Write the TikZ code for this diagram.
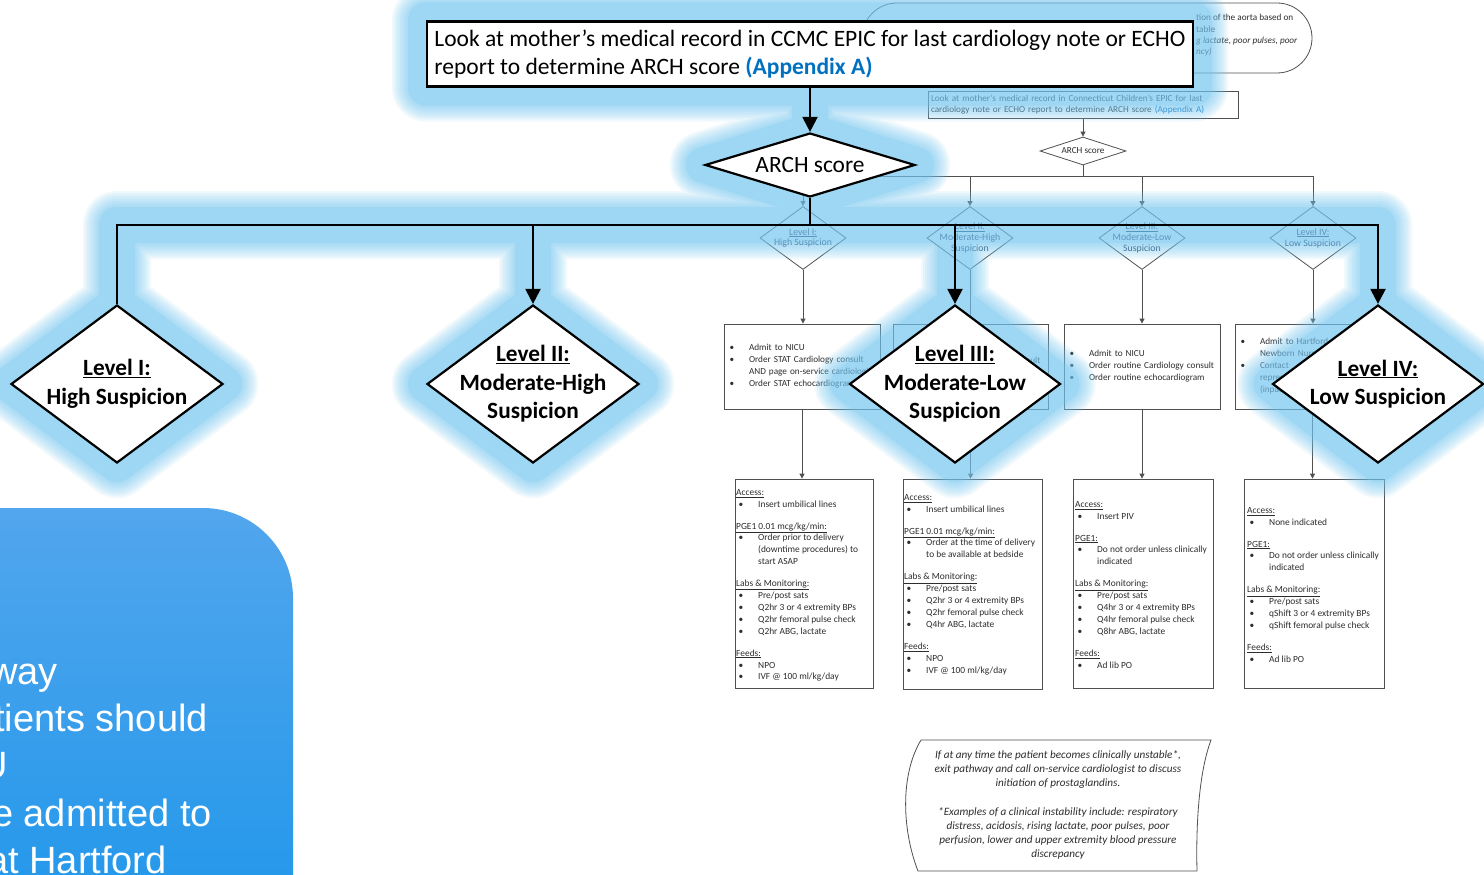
\documentclass[tikz,border=0pt]{standalone}
\usepackage{fontspec}
\setmainfont{Carlito}
\newfontfamily\arialfont{Liberation Sans}
\usetikzlibrary{shapes.geometric,arrows.meta,calc}
\pgfdeclarelayer{lowlayer}
\pgfdeclarelayer{glowlayer}
\pgfsetlayers{lowlayer,glowlayer,main}

\definecolor{glowblue}{RGB}{118,200,243}
\definecolor{linkblue}{RGB}{0,112,192}
\definecolor{linegrey}{RGB}{80,80,80}
\definecolor{smalltxt}{RGB}{45,45,45}
\definecolor{navytxt}{RGB}{35,55,85}
\definecolor{paneltop}{RGB}{82,166,237}
\definecolor{panelbot}{RGB}{24,148,234}

% bullet list helpers for the small flowchart boxes
\newcommand{\bitem}[1]{\mbox{\makebox[22pt][l]{\hspace{2.5pt}•}#1}}
\newcommand{\bcont}[1]{\mbox{\hspace*{22pt}#1}}
\newcommand{\bhead}[1]{\underline{#1}}

\begin{document}
\begin{tikzpicture}[x=1pt,y=-1pt,
  thinline/.style={draw=linegrey, line width=0.8pt},
  smallfont/.style={font=\fontsize{9.2}{12}\selectfont, text=smalltxt},
  sbox/.style={thinline, fill=white, rectangle, inner xsep=3pt, inner ysep=0pt, align=left, smallfont},
  sdiamond/.style={thinline, fill=white, diamond, inner sep=0pt, minimum width=86pt, minimum height=63pt},
  sdtext/.style={font=\fontsize{9.8}{10.8}\selectfont, text=navytxt, align=center},
  sarrow/.style={thinline, -{Triangle[width=5pt 0,length=5pt 0]}},
  dtext/.style={anchor=north west, inner sep=0pt, align=left, font=\fontsize{9.4}{11.9}\selectfont, text=smalltxt},
  bigline/.style={draw=black, line width=2.2pt},
  bigarrow/.style={bigline, -{Triangle[width=15pt 0,length=15pt 0]}},
  bigbox/.style={bigline, fill=white, rectangle},
  bigdiamond/.style={bigline, fill=white, diamond, inner sep=0pt, minimum height=158pt},
  bigtext/.style={font=\fontsize{23.3}{28.5}\selectfont\bfseries, align=center, text=black},
  paneltext/.style={font=\arialfont\fontsize{38}{40}\selectfont, text=white, inner sep=0pt, anchor=base east},
  halo/.style={glowblue, line join=round, line cap=round},
]
\useasboundingbox (0,0) rectangle (1484,875);
\clip (0,0) rectangle (1484,875);

% ---------------- small detailed flowchart ----------------
\begin{pgfonlayer}{lowlayer}
  \fill[white] (0,0) rectangle (1484,875);
  \node[thinline, rounded corners=35pt, minimum width=450pt, minimum height=70pt] (cond) at (1087,38) {};
  \node[smallfont, anchor=base west, inner sep=0pt] (c1) at (1196,21) {tion of the aorta based on};
  \node[smallfont, anchor=base west, inner sep=0pt] (c2) at (1196,33) {table};
  \node[smallfont, anchor=base west, inner sep=0pt, font=\fontsize{9.2}{12}\selectfont\itshape] (c3) at (1196,44) {g lactate, poor pulses, poor};
  \node[smallfont, anchor=base west, inner sep=0pt, font=\fontsize{9.2}{12}\selectfont\itshape] (c4) at (1196,55) {ncy)};

  \node[sbox, text width=304pt, minimum height=27pt, font=\fontsize{9.2}{11}\selectfont] (sstart) at (1083,104.5)
    {Look at mother’s medical record in Connecticut Children’s EPIC for last\\
     cardiology note or ECHO report to determine ARCH score {\color{linkblue}(Appendix A)}};
  \node[sdiamond, minimum height=28pt, label={[sdtext, text=smalltxt, font=\fontsize{9.2}{11}\selectfont]center:ARCH score}] (sarch) at (1083,151) {};
  \draw[sarrow] (sstart.south) -- (sarch.north);

  \coordinate (sbusL) at (803,176);
  \coordinate (sbusR) at (1313,176);
  \draw[thinline] (sarch.south) -- (sarch.south |- sbusL);
  \draw[thinline] (sbusL) -- (sbusR);

  \node[sdiamond, label={[sdtext]center:{\underline{Level I:}\\High Suspicion}}] (sd1) at (803,238) {};
  \node[sdiamond, label={[sdtext]center:{\underline{Level II:}\\Moderate-High\\Suspicion}}] (sd2) at (970,238) {};
  \node[sdiamond, label={[sdtext]center:{\underline{Level III:}\\Moderate-Low\\Suspicion}}] (sd3) at (1142,238) {};
  \node[sdiamond, label={[sdtext]center:{\underline{Level IV:}\\Low Suspicion}}] (sd4) at (1313,238) {};
  \draw[sarrow] (sbusL) -- (sd1.north);
  \draw[sarrow] (sd2.north |- sbusL) -- (sd2.north);
  \draw[sarrow] (sd3.north |- sbusL) -- (sd3.north);
  \draw[sarrow] (sbusR) -- (sd4.north);

  \node[sbox, text width=150pt, minimum height=85pt] (a1) at (802,366.5)
    {\bitem{Admit to NICU}\\ \bitem{Order STAT Cardiology consult}\\
     \bcont{AND page on-service cardiologist}\\ \bitem{Order STAT echocardiogram}};
  \node[sbox, text width=149pt, minimum height=85pt] (a2) at (970.5,366.5)
    {\bitem{Admit to NICU}\\ \bitem{Order urgent Cardiology consult}\\
     \bitem{Order urgent echocardiogram}\\ \mbox{}};
  \node[sbox, text width=150pt, minimum height=85pt] (a3) at (1142,366.5)
    {\bitem{Admit to NICU}\\ \bitem{Order routine Cardiology consult}\\
     \bitem{Order routine echocardiogram}};
  \node[sbox, text width=149pt, minimum height=85pt] (a4) at (1312.5,366.5)
    {\bitem{Admit to Hartford}\\ \bcont{Newborn Nursery}\\ \bitem{Contact}\\
     \bcont{representative}\\ \bcont{(inpatient)}};
  \draw[sarrow] (sd1.south) -- (sd1.south |- a1.north);
  \draw[sarrow] (sd2.south) -- (sd2.south |- a2.north);
  \draw[sarrow] (sd3.south) -- (sd3.south |- a3.north);
  \draw[sarrow] (sd4.south) -- (sd4.south |- a4.north);

  \node[thinline, fill=white, minimum width=138pt, minimum height=209pt, inner sep=0pt] (d1) at (804,583.5) {};
  \node[thinline, fill=white, minimum width=139pt, minimum height=210pt, inner sep=0pt] (d2) at (972.5,584) {};
  \node[thinline, fill=white, minimum width=140pt, minimum height=209pt, inner sep=0pt] (d3) at (1143,583.5) {};
  \node[thinline, fill=white, minimum width=140pt, minimum height=209pt, inner sep=0pt] (d4) at (1314,583.5) {};
  \draw[sarrow] (a1.south) -- (a1.south |- d1.north);
  \draw[sarrow] (a2.south) -- (a2.south |- d2.north);
  \draw[sarrow] (a3.south) -- (a3.south |- d3.north);
  \draw[sarrow] (a4.south) -- (a4.south |- d4.north);

  \node[dtext] (d1t) at (736,489) {\bhead{Access:}\\ \bitem{Insert umbilical lines}\\[10pt]
     \bhead{PGE1 0.01 mcg/kg/min:}\\ \bitem{Order prior to delivery}\\ \bcont{(downtime procedures) to}\\ \bcont{start ASAP}\\[10pt]
     \bhead{Labs \& Monitoring:}\\ \bitem{Pre/post sats}\\ \bitem{Q2hr 3 or 4 extremity BPs}\\ \bitem{Q2hr femoral pulse check}\\ \bitem{Q2hr ABG, lactate}\\[10pt]
     \bhead{Feeds:}\\ \bitem{NPO}\\ \bitem{IVF @ 100 ml/kg/day}};
  \node[dtext] (d2t) at (904,494) {\bhead{Access:}\\ \bitem{Insert umbilical lines}\\[10pt]
     \bhead{PGE1 0.01 mcg/kg/min:}\\ \bitem{Order at the time of delivery}\\ \bcont{to be available at bedside}\\[10pt]
     \bhead{Labs \& Monitoring:}\\ \bitem{Pre/post sats}\\ \bitem{Q2hr 3 or 4 extremity BPs}\\ \bitem{Q2hr femoral pulse check}\\ \bitem{Q4hr ABG, lactate}\\[10pt]
     \bhead{Feeds:}\\ \bitem{NPO}\\ \bitem{IVF @ 100 ml/kg/day}};
  \node[dtext] (d3t) at (1075,501) {\bhead{Access:}\\ \bitem{Insert PIV}\\[10pt]
     \bhead{PGE1:}\\ \bitem{Do not order unless clinically}\\ \bcont{indicated}\\[10pt]
     \bhead{Labs \& Monitoring:}\\ \bitem{Pre/post sats}\\ \bitem{Q4hr 3 or 4 extremity BPs}\\ \bitem{Q4hr femoral pulse check}\\ \bitem{Q8hr ABG, lactate}\\[10pt]
     \bhead{Feeds:}\\ \bitem{Ad lib PO}};
  \node[dtext] (d4t) at (1247,507) {\bhead{Access:}\\ \bitem{None indicated}\\[10pt]
     \bhead{PGE1:}\\ \bitem{Do not order unless clinically}\\ \bcont{indicated}\\[10pt]
     \bhead{Labs \& Monitoring:}\\ \bitem{Pre/post sats}\\ \bitem{qShift 3 or 4 extremity BPs}\\ \bitem{qShift femoral pulse check}\\[10pt]
     \bhead{Feeds:}\\ \bitem{Ad lib PO}};

  % note on clinical instability
  \draw[thinline, fill=white] (921,740) -- (1211,740)
     .. controls (1198,775) and (1196,830) .. (1197,871) -- (918,871)
     .. controls (902,830) and (900,775) .. (921,740);
  \node[font=\fontsize{11.2}{14.2}\selectfont\itshape, align=center, text=smalltxt, inner sep=0pt] (note) at (1058,805)
    {If at any time the patient becomes clinically unstable*,\\
     exit pathway and call on-service cardiologist to discuss\\
     initiation of prostaglandins.\\[14.5pt]
     *Examples of a clinical instability include: respiratory\\
     distress, acidosis, rising lactate, poor pulses, poor\\
     perfusion, lower and upper extremity blood pressure\\
     discrepancy};
\end{pgfonlayer}

% ---------------- enlarged overview ----------------
\node[bigbox, minimum width=766pt, minimum height=65pt, align=left, inner sep=0pt,
      font=\fontsize{23.5}{28}\selectfont] (top) at (810,54)
  {Look at mother’s medical record in CCMC EPIC for last cardiology note or ECHO\\
   report to determine ARCH score {\bfseries\color{linkblue}(Appendix A)}};
\node[bigdiamond, minimum width=210pt, minimum height=64pt,
      label={[font=\fontsize{23.4}{26}\selectfont]center:ARCH score}] (arch) at (810,165) {};

\node[bigdiamond, minimum width=212pt, label={[bigtext]center:{\underline{Level I:}\\High Suspicion}}] (lv1) at (117,384) {};
\node[bigdiamond, minimum width=212pt, label={[bigtext]center:{\underline{Level II:}\\Moderate-High\\Suspicion}}] (lv2) at (533,384) {};
\node[bigdiamond, minimum width=211pt, label={[bigtext]center:{\underline{Level III:}\\Moderate-Low\\Suspicion}}] (lv3) at (955,384) {};
\node[bigdiamond, minimum width=211pt, label={[bigtext]center:{\underline{Level IV:}\\Low Suspicion}}] (lv4) at (1378,384) {};

\coordinate (bus1) at (117,225);
\coordinate (bus4) at (1378,225);
\draw[bigarrow] (top.south) -- (arch.north);
\draw[bigline] (arch.south) -- (arch.south |- bus1);
\draw[bigarrow] (lv1.north) -- (bus1) -- (bus4) -- (lv4.north);
\draw[bigarrow] (lv2.north |- bus1) -- (lv2.north);
\draw[bigarrow] (lv3.north |- bus1) -- (lv3.north);

% soft blue halo behind the overview: a core plus fading rims
\begin{pgfonlayer}{glowlayer}
  \foreach \w/\o in {36/0.25,40/0.1,44/0.1,48/0.1,52/0.1,56/0.1,60/0.1,64/0.1,68/0.1}{
    \draw[halo, opacity=\o, line width=\w pt]
      (top.north west) rectangle (top.south east)
      (top.south) -- (arch.north)
      (arch.north) -- (arch.east) -- (arch.south) -- (arch.west) -- cycle
      (arch.south) -- (arch.south |- bus1)
      (lv1.north) -- (bus1) -- (bus4) -- (lv4.north)
      (lv2.north |- bus1) -- (lv2.north)
      (lv3.north |- bus1) -- (lv3.north)
      (lv1.north) -- (lv1.east) -- (lv1.south) -- (lv1.west) -- cycle
      (lv2.north) -- (lv2.east) -- (lv2.south) -- (lv2.west) -- cycle
      (lv3.north) -- (lv3.east) -- (lv3.south) -- (lv3.west) -- cycle
      (lv4.north) -- (lv4.east) -- (lv4.south) -- (lv4.west) -- cycle;
  }
\end{pgfonlayer}

% ---------------- blue side panel ----------------
\shade[top color=paneltop, bottom color=panelbot, rounded corners=90pt]
  (-300,1000) -- (-300,508) -- (293,508) -- (293,1000) -- cycle;
\node[paneltext] (p1) at (58,684) {pathway};
\node[paneltext] (p2) at (208,731) {patients should};
\node[paneltext] (p3) at (8,778) {NICU};
\node[paneltext] (p4) at (212,826) {be admitted to};
\node[paneltext] (p5) at (167,873) {at Hartford};
\end{tikzpicture}
\end{document}
